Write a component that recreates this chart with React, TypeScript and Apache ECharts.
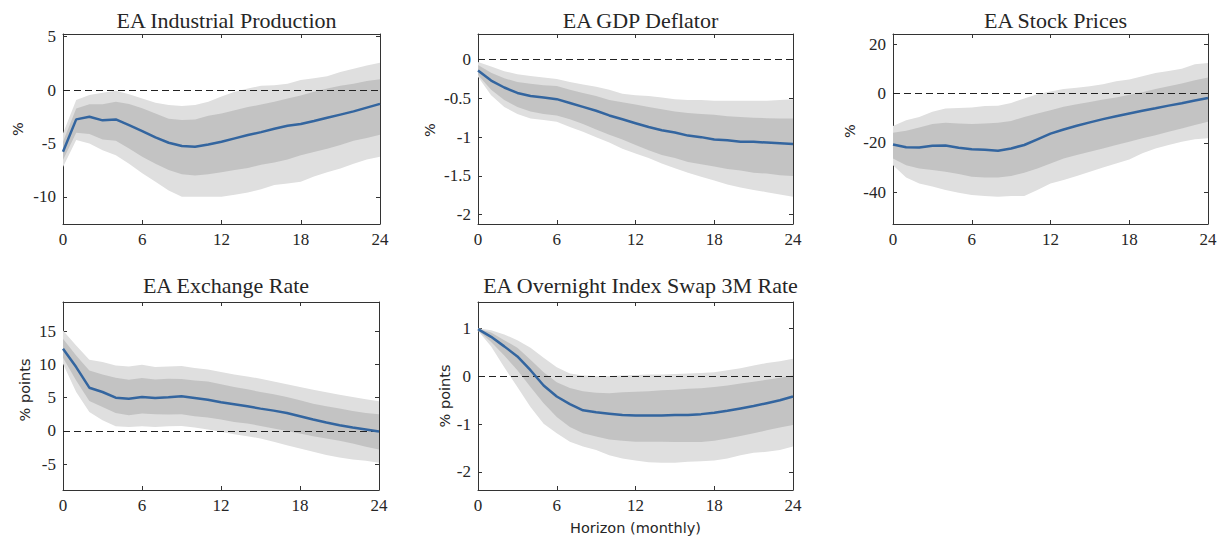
import React, { useEffect, useRef } from "react";
import * as echarts from "echarts";

const horizon = [0,1,2,3,4,5,6,7,8,9,10,11,12,13,14,15,16,17,18,19,20,21,22,23,24];

// EA Industrial Production
const ipMedian = [-5.78,-2.75,-2.5,-2.84,-2.75,-3.28,-3.84,-4.44,-4.94,-5.25,-5.31,-5.1,-4.84,-4.53,-4.22,-3.94,-3.63,-3.35,-3.19,-2.9,-2.6,-2.3,-2.0,-1.65,-1.3];
const ipDarkUp = [-4.84,-1.72,-1.34,-1.34,-1.09,-1.3,-1.7,-2.2,-2.7,-2.8,-2.75,-2.4,-2.2,-1.9,-1.6,-1.35,-1.1,-0.8,-0.5,-0.15,0.15,0.4,0.6,0.85,1.0];
const ipDarkLo = [-6.56,-4.0,-4.13,-4.63,-4.75,-5.47,-6.25,-6.9,-7.5,-7.9,-8.0,-7.9,-7.7,-7.5,-7.3,-7.0,-6.8,-6.5,-6.1,-5.8,-5.5,-5.15,-4.75,-4.5,-4.2];
const ipLightUp = [-4.06,-0.94,-0.47,-0.25,-0.06,-0.4,-0.8,-1.2,-1.4,-1.5,-1.4,-1.1,-0.6,-0.15,0.15,0.4,0.45,0.6,0.95,1.1,1.3,1.7,2.0,2.3,2.55];
const ipLightLo = [-7.2,-4.69,-5.0,-5.63,-6.1,-6.9,-7.8,-8.6,-9.4,-10.0,-10.0,-10.0,-10.0,-9.8,-9.6,-9.3,-8.9,-8.75,-8.6,-8.1,-7.7,-7.35,-6.9,-6.5,-6.25];
const ipTicks = [-10, -5, 0, 5];

// EA GDP Deflator
const gdpMedian = [-0.14,-0.27,-0.36,-0.43,-0.47,-0.49,-0.51,-0.56,-0.61,-0.66,-0.72,-0.77,-0.82,-0.87,-0.91,-0.94,-0.98,-1.0,-1.03,-1.04,-1.06,-1.06,-1.07,-1.08,-1.09];
const gdpDarkUp = [-0.07,-0.17,-0.24,-0.29,-0.31,-0.33,-0.34,-0.39,-0.43,-0.47,-0.52,-0.55,-0.58,-0.61,-0.64,-0.67,-0.69,-0.7,-0.71,-0.73,-0.74,-0.75,-0.755,-0.76,-0.76];
const gdpDarkLo = [-0.2,-0.39,-0.52,-0.61,-0.67,-0.7,-0.72,-0.77,-0.83,-0.9,-0.97,-1.03,-1.1,-1.17,-1.23,-1.27,-1.32,-1.35,-1.38,-1.41,-1.43,-1.46,-1.47,-1.49,-1.5];
const gdpLightUp = [-0.03,-0.09,-0.15,-0.19,-0.21,-0.23,-0.25,-0.29,-0.32,-0.35,-0.39,-0.44,-0.46,-0.47,-0.49,-0.51,-0.52,-0.52,-0.53,-0.53,-0.53,-0.53,-0.53,-0.52,-0.51];
const gdpLightLo = [-0.22,-0.46,-0.61,-0.7,-0.76,-0.78,-0.8,-0.87,-0.93,-1.0,-1.07,-1.15,-1.21,-1.27,-1.34,-1.4,-1.46,-1.51,-1.56,-1.61,-1.65,-1.68,-1.71,-1.74,-1.77];
const gdpTicks = [-2, -1.5, -1, -0.5, 0];

// EA Stock Prices
const spMedian = [-20.7,-21.8,-21.9,-21.2,-21.1,-22.0,-22.6,-22.8,-23.2,-22.3,-20.9,-18.6,-16.3,-14.6,-13.1,-11.7,-10.4,-9.2,-8.1,-7.0,-6.0,-4.9,-3.9,-2.8,-1.8];
const spDarkUp = [-15.9,-15.1,-13.8,-12.4,-11.9,-12.2,-12.4,-12.2,-11.9,-11.1,-9.5,-8.1,-6.8,-5.4,-4.3,-3.4,-2.4,-1.6,-0.5,0.5,1.9,3.0,4.1,5.4,6.5];
const spDarkLo = [-26.4,-29.1,-30.4,-31.1,-31.8,-32.7,-33.8,-34.1,-34.1,-33.5,-32.2,-30.4,-28.4,-26.4,-25.0,-23.6,-22.3,-20.9,-19.6,-18.2,-16.9,-15.5,-14.2,-12.8,-11.5];
const spLightUp = [-13.2,-10.8,-9.5,-7.4,-6.1,-5.9,-5.7,-5.1,-5.0,-3.8,-2.0,-0.3,0.8,1.9,2.4,3.0,3.8,5.0,5.7,7.0,8.4,9.2,10.1,11.9,12.4];
const spLightLo = [-29.1,-34.1,-36.5,-37.8,-39.2,-40.3,-41.2,-41.6,-41.9,-41.6,-41.6,-39.2,-36.5,-35.1,-33.5,-31.8,-30.0,-28.4,-26.8,-24.3,-22.3,-20.9,-19.6,-18.6,-18.2];
const spTicks = [-40, -20, 0, 20];

// EA Exchange Rate
const fxMedian = [12.35,9.6,6.5,5.85,5.0,4.85,5.1,4.95,5.05,5.2,4.95,4.7,4.3,4.0,3.7,3.35,3.05,2.7,2.2,1.7,1.25,0.85,0.5,0.2,-0.1];
const fxDarkUp = [13.85,11.35,9.1,8.5,8.0,7.7,7.95,7.75,7.85,7.8,7.6,7.45,7.0,6.6,6.25,5.85,5.5,5.1,4.6,4.1,3.7,3.35,3.0,2.7,2.5];
const fxDarkLo = [11.0,7.6,4.5,3.6,2.7,2.35,2.6,2.5,2.45,2.5,2.2,2.0,1.7,1.35,1.1,0.75,0.35,0.0,-0.4,-0.8,-1.15,-1.5,-1.9,-2.4,-2.8];
const fxLightUp = [15.1,12.85,10.7,10.35,9.85,9.7,9.95,9.6,9.7,9.75,9.45,9.25,8.85,8.5,8.2,7.85,7.45,7.0,6.6,6.2,5.8,5.45,5.1,4.75,4.45];
const fxLightLo = [10.1,5.85,2.85,1.6,0.7,0.6,0.7,0.6,0.7,0.75,0.5,0.2,-0.15,-0.5,-0.8,-1.15,-1.65,-2.15,-2.65,-3.15,-3.65,-4.0,-4.3,-4.5,-4.8];
const fxTicks = [-5, 0, 5, 10, 15];

// EA Overnight Index Swap 3M Rate
const oisMedian = [0.99,0.83,0.63,0.42,0.13,-0.19,-0.42,-0.58,-0.71,-0.75,-0.78,-0.81,-0.82,-0.82,-0.82,-0.81,-0.81,-0.79,-0.76,-0.72,-0.67,-0.62,-0.56,-0.5,-0.42];
const oisDarkUp = [1.0,0.92,0.76,0.6,0.35,0.09,-0.12,-0.24,-0.31,-0.34,-0.35,-0.33,-0.32,-0.31,-0.29,-0.28,-0.26,-0.25,-0.22,-0.19,-0.15,-0.11,-0.07,-0.03,0.02];
const oisDarkLo = [0.97,0.72,0.44,0.13,-0.22,-0.56,-0.85,-1.06,-1.19,-1.26,-1.32,-1.35,-1.37,-1.37,-1.37,-1.375,-1.375,-1.375,-1.35,-1.3,-1.25,-1.19,-1.13,-1.07,-1.02];
const oisLightUp = [1.01,0.97,0.88,0.76,0.6,0.39,0.19,0.06,0.02,0.01,0.01,0.02,0.03,0.04,0.04,0.05,0.06,0.07,0.09,0.13,0.17,0.23,0.28,0.32,0.37];
const oisLightLo = [0.96,0.63,0.19,-0.22,-0.64,-0.99,-1.19,-1.37,-1.47,-1.54,-1.65,-1.72,-1.76,-1.8,-1.81,-1.81,-1.79,-1.78,-1.76,-1.72,-1.65,-1.6,-1.58,-1.54,-1.47];
const oisTicks = [-2, -1, 0, 1];

const panels = [
  { title: "EA Industrial Production", yName: "%", median: ipMedian, dUp: ipDarkUp, dLo: ipDarkLo, lUp: ipLightUp, lLo: ipLightLo, ticks: ipTicks, min: -12.55, max: 5.25,
    grid: { left: 63, top: 34, width: 317, height: 190 }, nameX: 18, nameY: 129, titleTop: 4 },
  { title: "EA GDP Deflator", yName: "%", median: gdpMedian, dUp: gdpDarkUp, dLo: gdpDarkLo, lUp: gdpLightUp, lLo: gdpLightLo, ticks: gdpTicks, min: -2.12, max: 0.33,
    grid: { left: 478, top: 34, width: 315, height: 190 }, nameX: 430, nameY: 130, titleTop: 4 },
  { title: "EA Stock Prices", yName: "%", median: spMedian, dUp: spDarkUp, dLo: spDarkLo, lUp: spLightUp, lLo: spLightLo, ticks: spTicks, min: -53, max: 24.2,
    grid: { left: 893, top: 34, width: 315, height: 190 }, nameX: 850, nameY: 131, titleTop: 4 },
  { title: "EA Exchange Rate", yName: "% points", median: fxMedian, dUp: fxDarkUp, dLo: fxDarkLo, lUp: fxLightUp, lLo: fxLightLo, ticks: fxTicks, min: -8.9, max: 19.4,
    grid: { left: 63, top: 302, width: 316, height: 188 }, nameX: 25, nameY: 390, titleTop: 269 },
  { title: "EA Overnight Index Swap 3M Rate", yName: "% points", median: oisMedian, dUp: oisDarkUp, dLo: oisDarkLo, lUp: oisLightUp, lLo: oisLightLo, ticks: oisTicks, min: -2.38, max: 1.56,
    grid: { left: 478, top: 302, width: 315, height: 188 }, nameX: 445, nameY: 396, titleTop: 269 },
];

const AXIS_COLOR = "#333333";
const LIGHT = "#dfdfdf";
const DARK = "#c3c3c3";
const BLUE = "#33659f";
const SERIF = "Liberation Serif";
const SANS = "DejaVu Sans";

function bandSeries(i: number, lo: number[], hi: number[], color: string, z: number) {
  return {
    type: "custom", xAxisIndex: i * 2, yAxisIndex: i * 2, silent: true, z,
    data: horizon.map((h, k) => [h, lo[k], hi[k]]),
    encode: { x: 0, y: [1, 2] },
    renderItem: (params: any, api: any) => {
      if (params.dataIndex !== 0) return null;
      const upper = horizon.map((h, k) => api.coord([h, hi[k]]));
      const lower = horizon.map((h, k) => api.coord([h, lo[k]])).reverse();
      return {
        type: "polygon",
        shape: { points: upper.concat(lower) },
        style: { fill: color, stroke: "none" },
      };
    },
  };
}

function buildOption() {
  const grid: any[] = [];
  const xAxis: any[] = [];
  const yAxis: any[] = [];
  const series: any[] = [];
  const title: any[] = [];
  const graphic: any[] = [];

  panels.forEach((p, i) => {
    grid.push({ ...p.grid, containLabel: false });
    const xBase = {
      type: "value", gridIndex: i, min: 0, max: 24, interval: 6,
      splitLine: { show: false },
      axisLine: { show: true, onZero: false, lineStyle: { color: AXIS_COLOR, width: 1 } },
      axisTick: { show: true, inside: true, length: 4, lineStyle: { color: AXIS_COLOR } },
    };
    xAxis.push({ ...xBase, position: "bottom",
      axisLabel: { show: true, fontFamily: SERIF, fontSize: 17, color: "#262626", margin: 7 } });
    xAxis.push({ ...xBase, position: "top", axisLabel: { show: false } });
    const yBase = {
      type: "value", gridIndex: i, min: p.min, max: p.max,
      splitLine: { show: false },
      axisLine: { show: true, onZero: false, lineStyle: { color: AXIS_COLOR, width: 1 } },
      axisTick: { show: true, inside: true, length: 4, customValues: p.ticks, lineStyle: { color: AXIS_COLOR } },
    };
    yAxis.push({ ...yBase, position: "left",
      axisLabel: { show: true, customValues: p.ticks, fontFamily: SERIF, fontSize: 17, color: "#262626", margin: 7 } });
    yAxis.push({ ...yBase, position: "right", axisLabel: { show: false } });

    series.push(bandSeries(i, p.lLo, p.lUp, LIGHT, 1));
    series.push(bandSeries(i, p.dLo, p.dUp, DARK, 2));
    series.push({
      type: "line", xAxisIndex: i * 2, yAxisIndex: i * 2, symbol: "none", silent: true, z: 4,
      data: horizon.map((h, k) => [h, p.median[k]]), lineStyle: { color: BLUE, width: 2.5 },
      markLine: {
        silent: true, symbol: ["none", "none"], label: { show: false }, z: 3,
        lineStyle: { color: "#222", width: 1, type: [7, 4] },
        data: [{ yAxis: 0 }],
      },
    });

    const cx = p.grid.left + p.grid.width / 2;
    title.push({
      text: p.title, left: cx, top: p.titleTop, textAlign: "center",
      textStyle: { fontFamily: SERIF, fontSize: 22, fontWeight: "normal", color: "#262626" },
    });
    graphic.push({
      type: "text", x: p.nameX, y: p.nameY, rotation: Math.PI / 2,
      style: { text: p.yName, fontFamily: SANS, fontSize: 14.5, fill: "#262626", textAlign: "center", textVerticalAlign: "middle" },
    });
  });

  graphic.push({
    type: "text", x: 635.5, y: 528,
    style: { text: "Horizon (monthly)", fontFamily: SANS, fontSize: 14.5, fill: "#262626", textAlign: "center", textVerticalAlign: "middle" },
  });

  return { animation: false, backgroundColor: "#ffffff", textStyle: { fontFamily: SERIF }, grid, xAxis, yAxis, series, title, graphic };
}

export default function App() {
  const ref = useRef<HTMLDivElement>(null);
  useEffect(() => {
    if (!ref.current) return;
    const chart = echarts.init(ref.current, undefined, { renderer: "svg" });
    chart.setOption(buildOption() as any);
    return () => chart.dispose();
  }, []);
  return <div ref={ref} style={{ position: "fixed", left: 0, top: 0, width: 1227, height: 540, background: "#fff" }} />;
}
